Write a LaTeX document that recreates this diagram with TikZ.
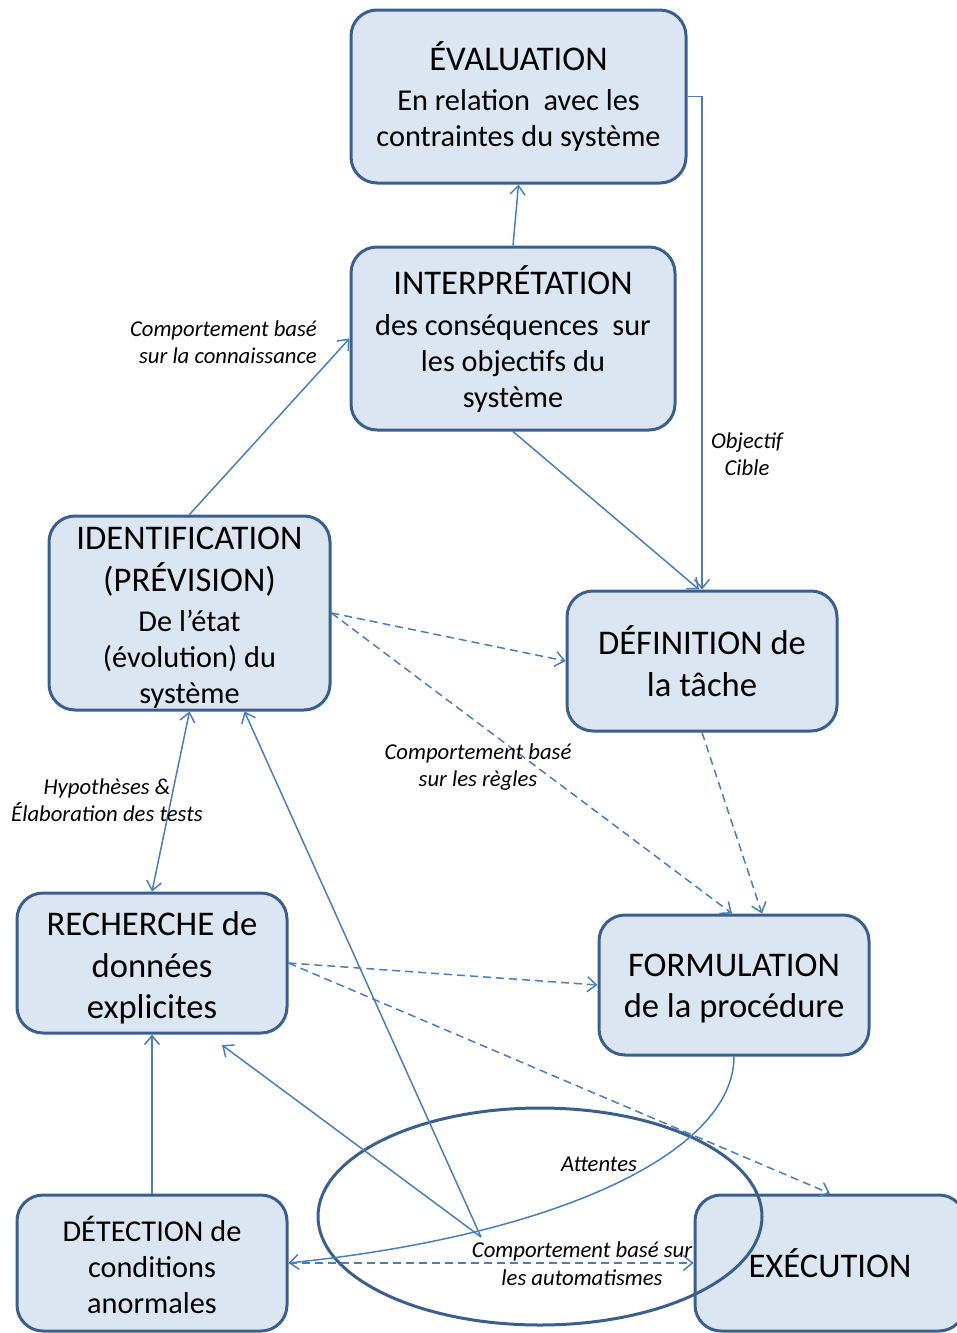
\documentclass[tikz,border=0pt]{standalone}
\usepackage{fontspec}
\setmainfont{Carlito}
\usetikzlibrary{arrows.meta,calc}

\definecolor{boxfill}{HTML}{DCE6F2}
\definecolor{boxline}{HTML}{3A5F8E}
\definecolor{linkblue}{HTML}{4A7EBB}

\newcommand\boxtitlefs{\fontsize{34.6}{41.5}\selectfont}
\newcommand\boxbodyfs{\fontsize{30.3}{36}\selectfont}
\newcommand\notefs{\fontsize{22.7}{27.5}\selectfont}
% strut that pushes a text block down inside its box
\newcommand\topstrut[1]{\rule{0pt}{#1}}

\tikzset{
  stagebox/.style={draw=boxline, line width=3pt, fill=boxfill,
    rounded corners=26pt, align=center, inner sep=0pt},
  bigtext/.style={font=\boxtitlefs},
  smalltext/.style={font=\boxbodyfs},
  flow/.style={draw=linkblue, line width=1.5pt,
    -{Straight Barb[length=9pt,width=15pt]}},
  dflow/.style={flow, dash pattern=on 8pt off 5pt},
  note/.style={font=\notefs\itshape, align=center, inner sep=0pt}
}

\begin{document}
\begin{tikzpicture}[x=1pt, y=-1pt]
\useasboundingbox (0,0) rectangle (957,1333);
\clip (0,0) rectangle (957,1333);

% stages
\node[stagebox, smalltext, minimum width=335pt, minimum height=173pt] (eval) at (518.5,96.5)
  {{\boxtitlefs ÉVALUATION}\\[4pt] En relation~ avec les\\ contraintes du système};
\node[stagebox, smalltext, minimum width=324pt, minimum height=183pt] (interp) at (513,338.5)
  {{\boxtitlefs INTERPRÉTATION}\\[5pt] des conséquences~ sur\\ les objectifs du\\ système};
\node[stagebox, smalltext, minimum width=281pt, minimum height=194pt] (ident) at (189.5,613)
  {{\boxtitlefs\topstrut{32pt}IDENTIFICATION}\\[6pt] {\boxtitlefs (PRÉVISION)}\\[4pt] De l’état\\ (évolution) du\\ système};
\node[stagebox, bigtext, minimum width=270pt, minimum height=140pt] (def) at (702,661)
  {DÉFINITION de\\ la tâche};
\node[stagebox, bigtext, minimum width=270pt, minimum height=140pt] (rech) at (152,963)
  {\topstrut{34pt}RECHERCHE de\\ données\\ explicites};
\node[stagebox, bigtext, minimum width=270pt, minimum height=140pt] (form) at (734,985)
  {\topstrut{30pt}FORMULATION\\ de la procédure};
\node[stagebox, smalltext, minimum width=270pt, minimum height=136pt] (detect) at (152,1263)
  {\topstrut{30pt}DÉTECTION de\\ conditions\\ anormales};
\node[stagebox, bigtext, minimum width=270pt, minimum height=136pt] (exec) at (830,1263)
  {EXÉCUTION};

% skill-based loop
\draw[boxline, line width=3pt] (540,1216.5) ellipse [x radius=222pt, y radius=108.5pt];

% connectors
\draw[flow] (interp.north) -- (eval.south);
\draw[flow] (eval.east) -| (def.north);
\draw[flow] (interp.south) -- ($(def.north)+(-3,0)$);
\draw[flow] (ident.north) -- (interp.west);
\draw[dflow] (ident.east) -- (def.west);
\draw[dflow] (ident.east) -- ($(form.north)+(-2,0)$);
\draw[dflow] (def.south) -- ($(form.north)+(28,0)$);
\draw[flow, {Straight Barb[length=9pt,width=15pt]}-{Straight Barb[length=9pt,width=15pt]}]
  (rech.north) -- (ident.south);
\draw[dflow] (rech.east) -- (form.west);
\draw[dflow] (rech.east) -- (exec.north);
\draw[flow] (detect.north) -- (rech.south);

\coordinate (hub) at (481,1237);
\coordinate (rechin) at (222,1045);
\draw[flow] (hub) -- (rechin);
\draw[flow] (hub) -- ($(ident.south)+(55,0)$);
\draw[flow] (form.south) .. controls ($(form.south)+(0,95)$) and (560,1235) .. (detect.east);
\draw[dflow] (detect.east) -- (exec.west);

% labels
\node[note, anchor=east, align=right] (kb) at (317,342) {Comportement basé\\sur la connaissance};
\node[note] (oc) at (747,454) {Objectif\\Cible};
\node[note] (rb) at (478,767) {Comportement basé\\sur les règles};
\node[note] (hyp) at (107,800) {Hypothèses \&\\Élaboration des tests};
\node[note] (att) at (599,1164) {Attentes};
\node[note] (auto) at (582,1263.5) {Comportement basé sur\\les automatismes};
\end{tikzpicture}
\end{document}
